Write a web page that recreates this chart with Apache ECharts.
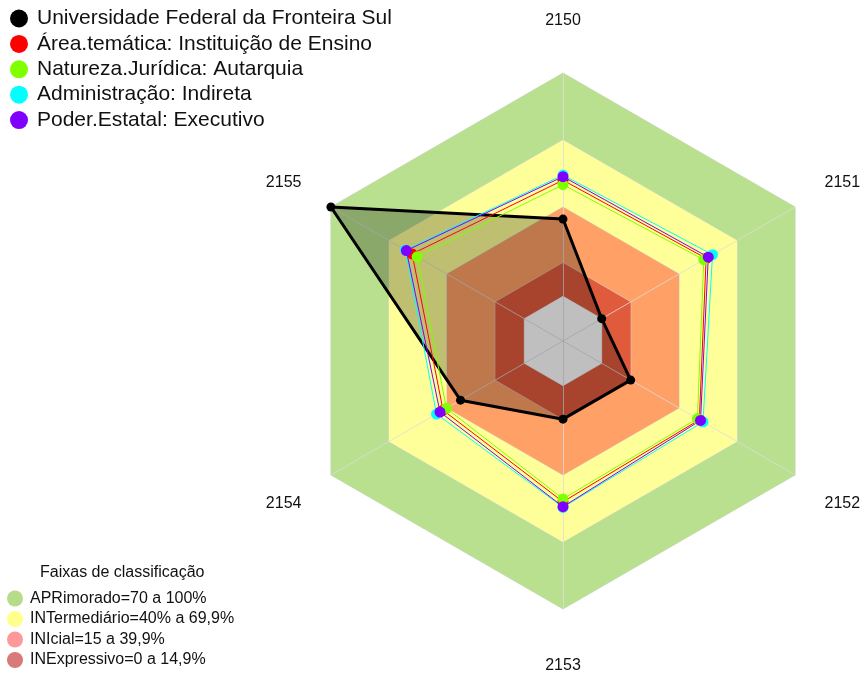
<!DOCTYPE html>
<html>
<head>
<meta charset="utf-8">
<script src="https://cdn.jsdelivr.net/npm/echarts@6/dist/echarts.min.js"></script>
<style>
  html, body { margin: 0; padding: 0; background: #fff; }
  #chart { width: 863px; height: 673px; }
</style>
</head>
<body>
<div id="chart"></div>
<script>
  // eixos (indicadores) na ordem do gráfico original
  var indicadores = ['2150', '2151', '2152', '2153', '2154', '2155'];
  // o radar do echarts gira no sentido anti-horário a partir do topo
  var ordem = [0, 5, 4, 3, 2, 1];

  var universidade = [34.6, 0, 15, 15, 33, 100];
  var areaTematica = [52, 54, 50.5, 52, 42, 58];
  var naturezaJuridica = [50, 52.8, 49.5, 50.7, 40.3, 55.4];
  var administracao = [54.3, 57.3, 52.4, 54.5, 45.4, 61.5];
  var poderEstatal = [53.6, 55.1, 51.1, 54.2, 43.6, 61];

  var nomesSeries = [
    'Universidade Federal da Fronteira Sul',
    'Área.temática: Instituição de Ensino',
    'Natureza.Jurídica: Autarquia',
    'Administração: Indireta',
    'Poder.Estatal: Executivo'
  ];
  var coresSeries = ['#000000', '#ff0000', '#80ff00', '#00ffff', '#8000ff'];

  // faixas de classificação (limite superior de cada faixa)
  var faixasNomes = ['APRimorado=70 a 100%', 'INTermediário=40% a 69,9%', 'INIcial=15 a 39,9%', 'INExpressivo=0 a 14,9%'];
  var faixasLimites = [100, 70, 40, 15, 0];
  var faixasCores = ['#b9e08e', '#ffff99', '#ffa066', '#e05b3c', '#ffffff'];
  var faixasLegenda = ['#b6dc8a', '#ffff8c', '#ff9999', '#d97a7a'];

  var escalaMin = -20, escalaMax = 100;
  var fonte = '"Liberation Sans", Arial, sans-serif';

  function reordena(arr) {
    return ordem.map(function (i) { return arr[i]; });
  }

  var posRotulo = { '2150': 'top', '2151': 'up', '2155': 'up', '2152': 'low', '2154': 'low', '2153': 'bot' };
  var estiloRot = { fontSize: 16, color: '#111', fontFamily: fonte };

  var dadosFaixas = faixasLimites.map(function (lim, k) {
    return {
      name: faixasNomes[k] || 'centro',
      value: indicadores.map(function () { return lim; }),
      itemStyle: { color: faixasLegenda[k] || '#fff' },
      lineStyle: { color: '#d8d8d8', width: 1 },
      areaStyle: { color: faixasCores[k], opacity: 1 }
    };
  });

  var valores = [universidade, areaTematica, naturezaJuridica, administracao, poderEstatal];
  var dadosSeries = valores.map(function (v, k) {
    var preto = k === 0;
    return {
      name: nomesSeries[k],
      value: reordena(v),
      symbol: 'circle',
      symbolSize: preto ? 9 : 11,
      itemStyle: { color: coresSeries[k] },
      lineStyle: { color: coresSeries[k], width: preto ? 3 : 1 },
      areaStyle: preto ? { color: 'rgba(0,0,0,0.25)', opacity: 1 } : undefined
    };
  });

  var chart = echarts.init(document.getElementById('chart'));
  chart.setOption({
    animation: false,
    title: {
      text: 'Faixas de classificação',
      left: 40, top: 565, padding: 0,
      textStyle: { fontSize: 16, fontWeight: 'normal', color: '#111', fontFamily: fonte }
    },
    legend: [{
      data: nomesSeries,
      orient: 'vertical',
      left: 10, top: 8, padding: 0,
      icon: 'circle',
      itemWidth: 18, itemHeight: 18, itemGap: 4.4,
      itemStyle: { borderWidth: 0 },
      selectedMode: false,
      textStyle: { fontSize: 21, color: '#111', fontFamily: fonte, padding: [0, 0, 0, 4] }
    }, {
      data: faixasNomes,
      orient: 'vertical',
      left: 7, top: 590.5, padding: 0,
      icon: 'circle',
      itemWidth: 16, itemHeight: 16, itemGap: 4.5,
      itemStyle: { borderWidth: 0 },
      selectedMode: false,
      textStyle: { fontSize: 16, color: '#111', fontFamily: fonte, padding: [0, 0, 0, 2] }
    }],
    radar: {
      center: [563, 341],
      radius: 268,
      startAngle: 90,
      shape: 'polygon',
      z: 1,
      nameGap: 34,
      indicator: reordena(indicadores).map(function (n) {
        return { name: n, min: escalaMin, max: escalaMax };
      }),
      axisName: {
        formatter: function (nome) { return '{' + posRotulo[nome] + '|' + nome + '}'; },
        rich: {
          top: Object.assign({ padding: [0, 0, 10, 0] }, estiloRot),
          bot: Object.assign({ padding: [15, 0, 0, 0] }, estiloRot),
          up: Object.assign({ padding: [0, 0, 14, 0] }, estiloRot),
          low: Object.assign({ padding: [24, 0, 0, 0] }, estiloRot)
        }
      },
      splitLine: { show: false },
      splitArea: { show: false },
      axisLine: { lineStyle: { color: 'rgba(220,220,220,0.8)', width: 1 } },
      axisTick: { show: false },
      axisLabel: { show: false }
    },
    series: [{
      type: 'radar',
      z: 0,
      silent: true,
      symbol: 'none',
      data: dadosFaixas
    }, {
      type: 'radar',
      z: 2,
      data: dadosSeries
    }]
  });
</script>
</body>
</html>
